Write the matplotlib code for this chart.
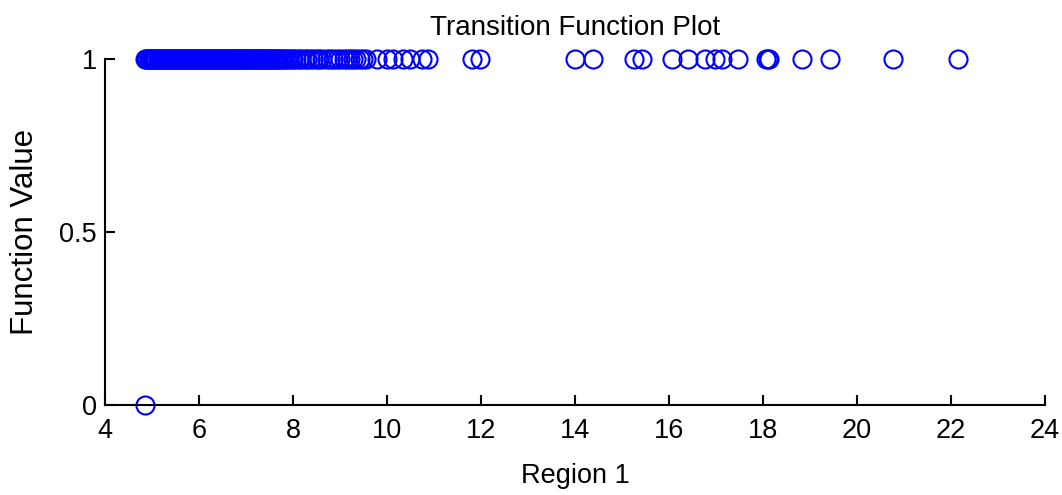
import matplotlib.pyplot as plt

plt.rcParams['font.family'] = ['Liberation Sans', 'DejaVu Sans']

# region 1 values where the transition function is 1 (dense cluster first)
region_dense = [4.86, 4.88, 4.90, 4.93, 4.95, 4.97, 5.00, 5.02, 5.05, 5.07, 5.09, 5.12,
                5.14, 5.17, 5.19, 5.21, 5.24, 5.26, 5.29, 5.31, 5.34, 5.36, 5.38, 5.41,
                5.43, 5.46, 5.48, 5.51, 5.53, 5.55, 5.58, 5.60, 5.63, 5.65, 5.68, 5.70,
                5.72, 5.75, 5.77, 5.80, 5.82, 5.85, 5.87, 5.90, 5.92, 5.94, 5.97, 5.99,
                6.02, 6.04, 6.07, 6.09, 6.12, 6.14, 6.16, 6.19, 6.21, 6.24, 6.26, 6.29,
                6.31, 6.34, 6.36, 6.38, 6.41, 6.43, 6.46, 6.48, 6.51, 6.53, 6.56, 6.58,
                6.61, 6.63, 6.66, 6.68, 6.71, 6.73, 6.76, 6.78, 6.81, 6.83, 6.86, 6.88,
                6.91, 6.93, 6.96, 6.98, 7.01, 7.03, 7.06, 7.09, 7.11, 7.14, 7.16, 7.19,
                7.22, 7.24, 7.27, 7.29, 7.32, 7.35, 7.37, 7.40, 7.43, 7.46, 7.48, 7.51,
                7.54, 7.57, 7.60, 7.63, 7.66, 7.69, 7.72, 7.75, 7.78]
region_mid = [7.83, 7.88, 7.92, 7.97, 8.01, 8.06, 8.12, 8.18, 8.25, 8.30, 8.36, 8.43,
              8.50, 8.55, 8.62, 8.72, 8.78, 8.85, 8.93, 9.00, 9.08, 9.15, 9.22, 9.28,
              9.35, 9.43, 9.50, 9.56]
region_sparse = [9.79, 10.0, 10.13, 10.34, 10.5, 10.74, 10.87, 11.8, 11.98, 14.0, 14.38,
                 15.25, 15.42, 16.06, 16.4, 16.77, 16.98, 17.13, 17.47, 18.07, 18.1,
                 18.13, 18.83, 19.43, 20.77, 22.15]
ones_x = region_dense + region_mid + region_sparse
ones_y = [1] * len(ones_x)

zero_x = [4.85]
zero_y = [0]

fig = plt.figure(figsize=(10.62, 4.95), dpi=100)
ax = fig.add_axes([0.0989, 0.1818, 0.885, 0.699])

ax.plot(ones_x + zero_x, ones_y + zero_y, 'o', markerfacecolor='none',
        markeredgecolor='#0000ff', markersize=13, markeredgewidth=1.5, clip_on=False)

ax.set_xlim(4, 24)
ax.set_ylim(0, 1)
ax.set_xticks([4, 6, 8, 10, 12, 14, 16, 18, 20, 22, 24])
ax.set_yticks([0, 0.5, 1])
ax.set_yticklabels(['0', '0.5', '1'])

for s in ['top', 'right']:
    ax.spines[s].set_visible(False)
for s in ['left', 'bottom']:
    ax.spines[s].set_linewidth(1.5)

ax.tick_params(direction='in', length=7, width=1.5, labelsize=19.5)
ax.tick_params(axis='x', pad=9)
ax.tick_params(axis='y', pad=6)

ax.set_title('Transition Function Plot', fontsize=20, pad=17)
ax.set_xlabel('Region 1', fontsize=19.5, labelpad=14)
ax.set_ylabel('Function Value', fontsize=22.5, labelpad=14)

fig.savefig('out.png', dpi=100)
